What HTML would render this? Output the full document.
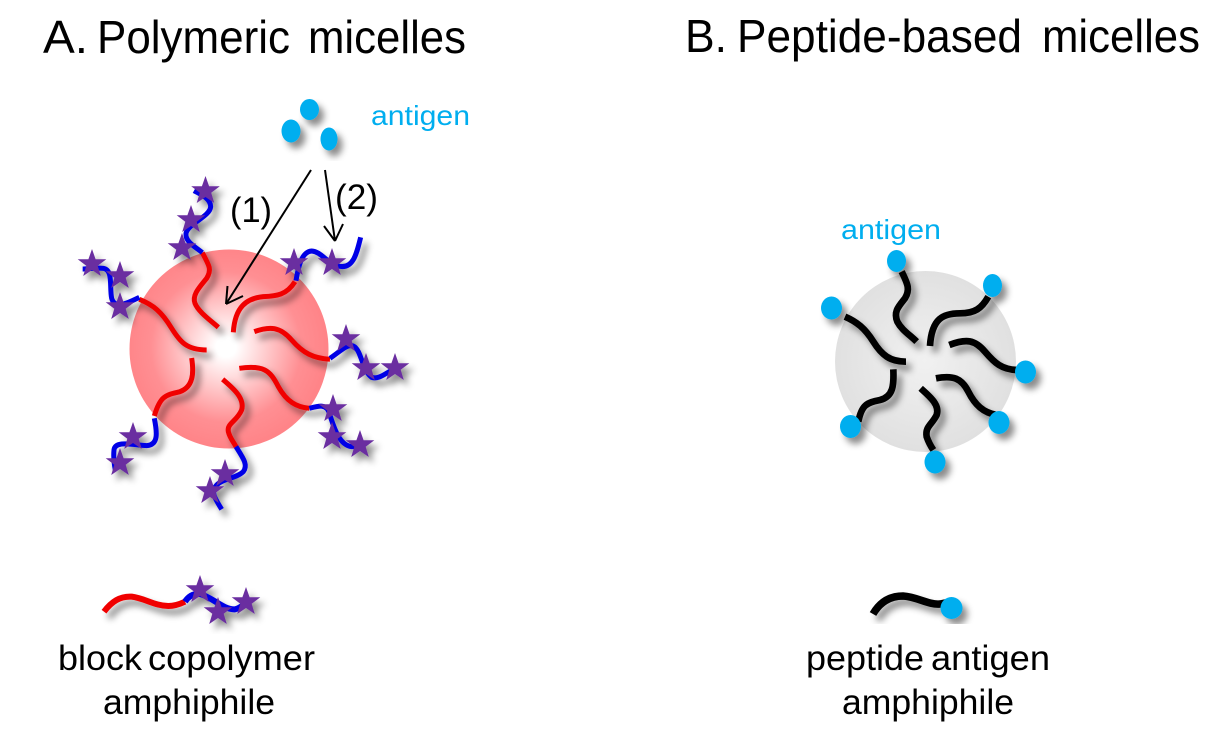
<!DOCTYPE html>
<html><head><meta charset="utf-8"><style>
html,body{margin:0;padding:0;background:#fff;width:1229px;height:754px;overflow:hidden}
svg{display:block}
text{font-family:"Liberation Sans",Arial,sans-serif;fill:#000}
</style></head><body>
<svg width="1229" height="754" viewBox="0 0 1229 754" xmlns="http://www.w3.org/2000/svg">
<defs>
<radialGradient id="rg" gradientUnits="userSpaceOnUse" cx="226" cy="347" r="100">
<stop offset="0" stop-color="#fff"/><stop offset=".1" stop-color="#fff"/><stop offset=".75" stop-color="#ff8f93"/><stop offset="1" stop-color="#ff8488"/></radialGradient>
<radialGradient id="gg" gradientUnits="userSpaceOnUse" cx="925" cy="361" r="92">
<stop offset="0" stop-color="#f1f1f1"/><stop offset="1" stop-color="#e0e0e0"/></radialGradient>
<filter id="sh" x="-20%" y="-20%" width="140%" height="140%"><feDropShadow dx="5" dy="6" stdDeviation="3.500" flood-color="#000" flood-opacity=".45"/></filter>
<polygon id="st" points="0,-15 3.600,-4.800 14.300,-4.800 5.700,1.800 8.800,12 0,6 -8.800,12 -5.700,1.800 -14.300,-4.800 -3.600,-4.800" fill="#6a2fa0"/>
</defs>

<circle cx="229" cy="349" r="99.500" fill="url(#rg)"/>
<circle cx="925.500" cy="361.500" r="90.500" fill="url(#gg)"/>

<!-- A -->
<g filter="url(#sh)">
<g transform="translate(70,170) scale(.3333)" fill="none" stroke-width="15" stroke-linejoin="round">
<g stroke="#f00000">
<path d="M397,248C420,290 425,300 410,325C390,350 365,375 375,400C385,425 420,450 445,472"/>
<path d="M675,335C650,375 620,378 580,380C530,385 495,410 490,487"/>
<path d="M553,485C600,468 630,470 665,510C700,550 730,565 780,568"/>
<path d="M508,595C580,585 600,600 625,650C650,695 680,712 718,715"/>
<path d="M458,628C490,655 525,685 515,720C500,755 470,760 475,785C480,805 490,815 498,830"/>
<path d="M365,564C372,610 370,650 330,665C285,675 270,680 253,738"/>
<path d="M410,540C350,540 330,515 305,475C275,425 250,405 208,388"/>
</g>
<g stroke="#0000e6">
<path d="M397,248C375,230 345,215 348,190C355,160 420,140 422,110C422,85 390,72 372,62"/>
<path d="M678,332C685,290 695,245 725,243C755,245 770,280 805,288C850,300 860,250 872,202"/>
<path d="M780,565C810,545 830,522 850,528C875,540 875,600 905,622C930,630 950,605 975,597"/>
<path d="M718,715C745,708 770,700 778,730C790,765 805,825 845,830L875,830"/>
<path d="M498,830C520,865 535,885 520,905C500,925 460,925 440,945C420,965 435,985 455,1018"/>
<path d="M253,745C262,790 265,825 230,827C190,825 135,810 132,840C130,860 132,880 136,900"/>
<path d="M208,382C175,398 135,420 125,385C118,350 130,300 100,295C75,293 55,297 38,297"/>
</g>
</g>
<use href="#st" x="205.500" y="191"/><use href="#st" x="191" y="220"/><use href="#st" x="182" y="248"/>
<use href="#st" x="294" y="263"/><use href="#st" x="332" y="263"/>
<use href="#st" x="346" y="339"/><use href="#st" x="366" y="368"/><use href="#st" x="395" y="368"/>
<use href="#st" x="333" y="409"/><use href="#st" x="332" y="437"/><use href="#st" x="360" y="445"/>
<use href="#st" x="225" y="474"/><use href="#st" x="210" y="491"/>
<use href="#st" x="133" y="437"/><use href="#st" x="120" y="463"/>
<use href="#st" x="92" y="264"/><use href="#st" x="120" y="276"/><use href="#st" x="120" y="307"/>
</g>

<!-- Antigen dots -->
<g filter="url(#sh)" fill="#00aeef">
<ellipse cx="309.500" cy="109.500" rx="9.500" ry="10.500"/>
<ellipse cx="291" cy="131" rx="9.500" ry="11.500"/>
<ellipse cx="329" cy="139" rx="8.500" ry="11.500"/>
</g>

<!-- Arrows -->
<g fill="none" stroke="#000" stroke-width="2">
<path d="M311,170L226,304"/><path d="M226,304L227.500,286M226,304L243,296"/>
<path d="M325,170L335,241"/><path d="M335,241L324,226M335,241L343,224"/>
</g>

<!-- B -->
<g filter="url(#sh)">
<g transform="translate(810,240) scale(.3333)" fill="none" stroke="#000" stroke-width="20">
<path d="M275,95C295,135 300,150 285,175C265,200 250,215 262,245C275,270 300,285 320,305"/>
<path d="M535,170C515,205 495,220 450,220C400,220 365,235 360,318"/>
<path d="M418,315C470,295 495,300 525,335C555,370 575,388 620,390"/>
<path d="M378,415C430,405 455,415 475,455C495,495 520,518 560,525"/>
<path d="M332,445C360,470 390,495 380,525C365,555 345,560 350,590C355,605 362,618 370,630"/>
<path d="M250,388C252,435 250,470 210,480C170,488 155,495 145,545"/>
<path d="M288,365C240,365 215,345 190,305C165,265 140,245 105,230"/>
</g>
<g fill="#00aeef">
<ellipse cx="896.500" cy="261" rx="9.500" ry="11"/>
<ellipse cx="992.500" cy="285.500" rx="9.500" ry="11.500"/>
<ellipse cx="831.500" cy="308" rx="10.500" ry="11.500"/>
<ellipse cx="1025.500" cy="372" rx="10.500" ry="11.500"/>
<ellipse cx="999" cy="422.500" rx="10.500" ry="11.500"/>
<ellipse cx="850.500" cy="426.500" rx="10.500" ry="11.500"/>
<ellipse cx="935" cy="462" rx="10.500" ry="11.500"/>
</g>
</g>

<!-- Legend A -->
<g filter="url(#sh)">
<g transform="translate(90,570) scale(.3333)" fill="none" stroke-width="18">
<path stroke="#f00000" d="M42,125C65,95 90,78 125,80C165,85 195,108 235,108C255,108 270,102 285,95"/>
<path stroke="#0000e6" d="M285,95C295,80 310,70 330,72C365,80 400,120 435,118C450,115 460,105 470,98"/>
</g>
<use href="#st" x="200" y="590"/><use href="#st" x="218" y="612"/><use href="#st" x="246" y="602"/>
</g>

<!-- Legend B -->
<g filter="url(#sh)">
<path d="M873,614C880,602 890,596 903,596C918,597 928,605 940,604L950,602" fill="none" stroke="#000" stroke-width="7.500"/>
<circle cx="951.500" cy="608" r="11" fill="#00aeef"/>
</g>

<!-- Text -->
<text x="43" y="53" font-size="46" textLength="45" lengthAdjust="spacingAndGlyphs">A.</text>
<text x="97" y="53" font-size="46" textLength="193" lengthAdjust="spacingAndGlyphs">Polymeric</text>
<text x="308" y="53" font-size="46" textLength="158" lengthAdjust="spacingAndGlyphs">micelles</text>
<text x="685" y="52" font-size="46" textLength="42" lengthAdjust="spacingAndGlyphs">B.</text>
<text x="737" y="52" font-size="46" textLength="285" lengthAdjust="spacingAndGlyphs">Peptide-based</text>
<text x="1042" y="52" font-size="46" textLength="158" lengthAdjust="spacingAndGlyphs">micelles</text>
<text x="371" y="125" font-size="28" style="fill:#00aeef" textLength="99" lengthAdjust="spacingAndGlyphs">antigen</text>
<text x="841" y="239" font-size="28" style="fill:#00aeef" textLength="100" lengthAdjust="spacingAndGlyphs">antigen</text>
<text x="230" y="222" font-size="35" textLength="42" lengthAdjust="spacingAndGlyphs">(1)</text>
<text x="335" y="209" font-size="35" textLength="43" lengthAdjust="spacingAndGlyphs">(2)</text>
<text x="58" y="670" font-size="35" textLength="84" lengthAdjust="spacingAndGlyphs">block</text>
<text x="148" y="670" font-size="35" textLength="167" lengthAdjust="spacingAndGlyphs">copolymer</text>
<text x="103" y="714" font-size="35" textLength="172" lengthAdjust="spacingAndGlyphs">amphiphile</text>
<text x="806" y="670" font-size="35" textLength="118" lengthAdjust="spacingAndGlyphs">peptide</text>
<text x="931" y="670" font-size="35" textLength="119" lengthAdjust="spacingAndGlyphs">antigen</text>
<text x="842" y="714" font-size="35" textLength="172" lengthAdjust="spacingAndGlyphs">amphiphile</text>
</svg>
</body></html>
